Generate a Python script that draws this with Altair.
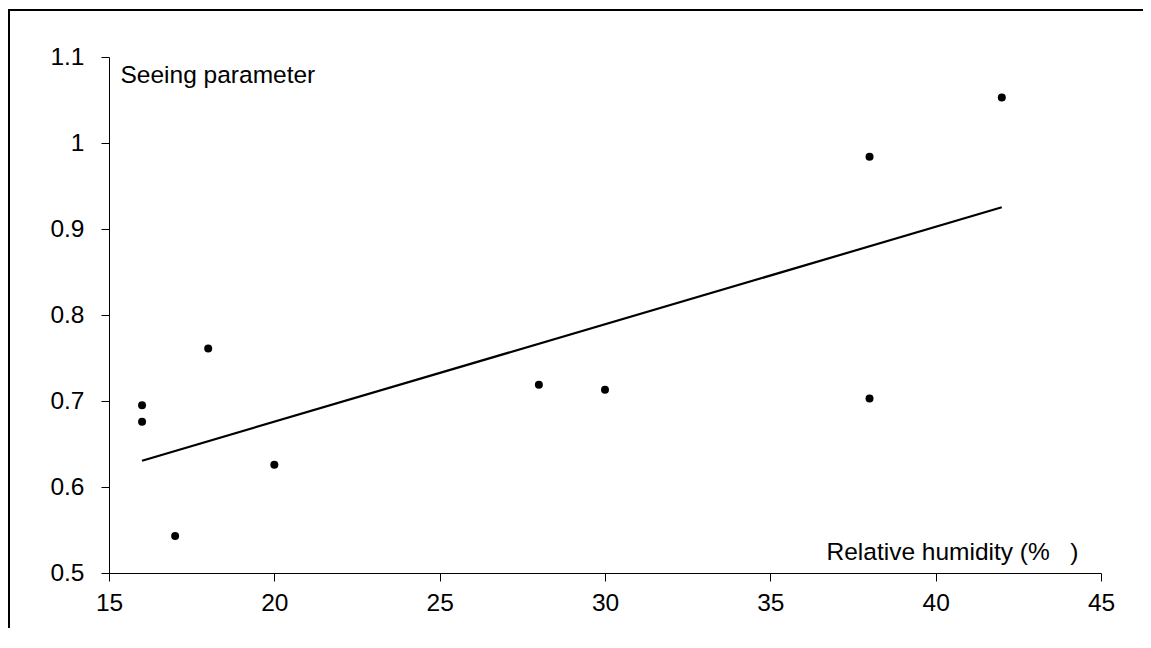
import altair as alt
import pandas as pd

humidity = [16, 16, 17, 18, 20, 28, 30, 38, 38, 42]
seeing = [0.695, 0.676, 0.543, 0.761, 0.626, 0.719, 0.713, 0.984, 0.703, 1.053]
x_ticks = [15, 20, 25, 30, 35, 40, 45]
y_ticks = [0.5, 0.6, 0.7, 0.8, 0.9, 1.0, 1.1]

df = pd.DataFrame({"x": humidity, "y": seeing})

W, H = 992, 516
FONT = "Liberation Sans"
FS = 24.5

xs = alt.Scale(domain=[15, 45], nice=False, zero=False)
ys = alt.Scale(domain=[0.5, 1.1], nice=False, zero=False)

x_axis = alt.Axis(
    values=x_ticks, grid=False, domainColor="black", tickColor="black",
    tickSize=8, labelFontSize=FS, labelFont=FONT, labelColor="black",
    labelPadding=10, labelFlush=False,
    title="Relative humidity (%\u00a0\u00a0\u00a0)", titleFont=FONT, titleFontSize=FS,
    titleFontWeight="normal", titleColor="black", titleX=717, titleY=-14,
    titleAlign="left", titleBaseline="alphabetic", titleAnchor="start",
)
y_axis = alt.Axis(
    values=y_ticks, grid=False, domainColor="black", tickColor="black",
    tickSize=8, labelFontSize=FS, labelFont=FONT, labelColor="black",
    labelPadding=17, labelFlush=False,
    labelExpr="datum.value == 1 ? '1' : format(datum.value, '.1f')",
    title="Seeing parameter", titleFont=FONT, titleFontSize=FS,
    titleFontWeight="normal", titleColor="black", titleX=11, titleY=25,
    titleAngle=0, titleAlign="left", titleBaseline="alphabetic", titleAnchor="start",
)

base = alt.Chart(df)

points = base.mark_circle(size=64, color="black", opacity=1).encode(
    x=alt.X("x:Q", scale=xs, axis=x_axis),
    y=alt.Y("y:Q", scale=ys, axis=y_axis),
)

trend = base.transform_regression("x", "y").mark_line(color="black", strokeWidth=2.2).encode(
    x=alt.X("x:Q", scale=xs),
    y=alt.Y("y:Q", scale=ys),
)

frame_top = base.mark_rule(color="black", strokeWidth=2).encode(
    x=alt.value(-102), x2=alt.value(W + 300), y=alt.value(-47)
)
frame_left = base.mark_rule(color="black", strokeWidth=2).encode(
    x=alt.value(-100.5), y=alt.value(-48), y2=alt.value(H + 300)
)

chart = alt.layer(frame_top, frame_left, trend, points).properties(
    width=W, height=H,
    background="white",
    autosize=alt.AutoSizeParams(type="none"),
    padding={"left": 101, "top": 49, "right": 42, "bottom": 55},
).configure_view(strokeWidth=0)

chart.save("out.html", embed_options={"renderer": "svg", "actions": False})
